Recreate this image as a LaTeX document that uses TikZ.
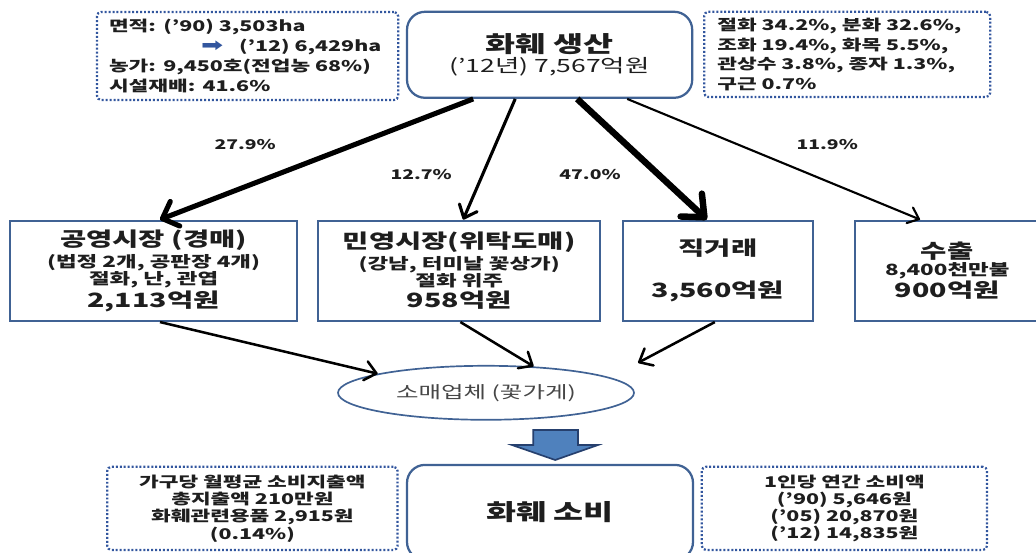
\documentclass[tikz,border=0pt]{standalone}
\usepackage{fontspec}
\setmainfont[FakeStretch=1.45]{Noto Sans CJK KR}
\newfontfamily\symfont[FakeStretch=1.45]{DejaVu Sans}
\usetikzlibrary{arrows.meta,shapes.geometric}

\definecolor{edgeblue}{RGB}{64,98,148}
\definecolor{dotblue}{RGB}{50,86,158}
\definecolor{blockblue}{RGB}{79,129,189}
\definecolor{blockedge}{RGB}{38,64,110}
\definecolor{ink}{RGB}{30,30,30}
\definecolor{soft}{RGB}{70,70,70}

\newcommand\headsz{\fontsize{14}{16}\selectfont}

\tikzset{
  note/.style={draw=dotblue, line width=1.6pt, dash pattern=on 1.4pt off 1.4pt,
    rounded corners=3pt, inner xsep=0.38cm, inner ysep=0pt, text=ink,
    font=\fontsize{10.5}{14}\selectfont\bfseries},
  stage/.style={draw=edgeblue, line width=1.6pt, rounded corners=0.45cm,
    inner sep=0pt, align=center, text=ink, font=\bfseries},
  market/.style={draw=edgeblue, line width=1.8pt, inner sep=0pt, align=center,
    text=ink, font=\fontsize{11}{12}\selectfont\bfseries, minimum height=2.5cm},
  share/.style={text=ink, font=\fontsize{9.5}{11}\selectfont\bfseries},
  flow/.style n args={3}{draw=black, line width=#1,
    -{Straight Barb[round,length=#2,width=#3]}},
}

\begin{document}
\begin{tikzpicture}
\useasboundingbox (0,0) rectangle (25.9,13.8);
\clip (0,0) rectangle (25.9,13.8);

% --- PRODUCTION ---
\node[stage, minimum width=7.13cm, minimum height=2.15cm] (prod) at (13.74,12.43)
  {{\fontsize{16}{18}\selectfont 화훼 생산}\\[1pt]
   {\mdseries\fontsize{13}{15}\selectfont (’12년) 7,567억원}};
\node[note, text width=6.93cm, inner xsep=0.3cm, align=left, minimum height=2.2cm] (area) at (6.19,12.40)
  {면적: (’90) 3,503ha\\
   \mbox{\hspace*{2.3cm}\makebox[0.95cm][l]{\color{dotblue}\symfont\fontsize{13}{13}\selectfont ➡}(’12) 6,429ha}\\
   농가: 9,450호(전업농 68\%)\\
   시설재배: 41.6\%};
\node[note, text width=6.49cm, inner xsep=0.33cm, align=left, minimum height=2.13cm] (kinds) at (21.18,12.44)
  {절화 34.2\%, 분화 32.6\%,\\
   조화 19.4\%, 화목 5.5\%,\\
   관상수 3.8\%, 종자 1.3\%,\\
   구근 0.7\%};

% --- MARKETS ---
\node[market, minimum width=7.18cm] (pub) at (3.84,7.03)
  {{\headsz 공영시장 (경매)}\\[2pt] (법정 2개, 공판장 4개)\\ 절화, 난, 관엽\\[1pt] {\headsz 2,113억원}};
\node[market, minimum width=7.05cm] (priv) at (11.48,7.03)
  {{\headsz 민영시장(위탁도매)}\\[2pt] (강남, 터미날 꽃상가)\\ 절화 위주\\[1pt] {\headsz 958억원}};
\node[market, minimum width=4.75cm] (direct) at (17.95,7.03)
  {{\headsz 직거래}\\[0.55cm] {\headsz 3,560억원}};
\node[market, minimum width=4.6cm] (export) at (23.68,7.03)
  {{\headsz 수출}\\ 8,400천만불\\ {\headsz 900억원}};

% --- SHARES ---
\node[share] (s1) at (6.13,10.18) {27.9\%};
\node[share] (s2) at (10.53,9.43) {12.7\%};
\node[share] (s3) at (14.75,9.43) {47.0\%};
\node[share] (s4) at (20.68,10.18) {11.9\%};

% --- RETAIL AND CONSUMPTION ---
\node[draw=edgeblue, line width=1.2pt, ellipse, minimum width=7.4cm, minimum height=1.35cm,
  inner sep=0pt, text=soft, font=\fontsize{12}{14}\selectfont] (retail) at (12.15,3.98) {소매업체 (꽃가게)};
\node[stage, minimum width=7.15cm, minimum height=2.375cm] (cons) at (13.75,0.99)
  {\fontsize{16}{18}\selectfont 화훼 소비};
\node[note, text width=6.5cm, align=center, minimum height=2.08cm,
  font=\fontsize{10.5}{12.3}\selectfont\bfseries] (house) at (6.31,1.09)
  {가구당 월평균 소비지출액\\ 총지출액 210만원\\ 화훼관련용품 2,915원\\ (0.14\%)};
\node[note, text width=6.37cm, align=center, minimum height=2.08cm,
  font=\fontsize{10.5}{12.3}\selectfont\bfseries] (percap) at (21.11,1.09)
  {1인당 연간 소비액\\ (’90) 5,646원\\ (’05) 20,870원\\ (’12) 14,835원};

% --- FLOWS ---
\draw[flow={3.6pt}{0.34cm}{0.66cm}] ([xshift=-1.91cm]prod.south) -- ([xshift=0.16cm]pub.north);
\draw[flow={2.2pt}{0.28cm}{0.48cm}] ([xshift=-0.86cm]prod.south) -- ([xshift=0.1cm]priv.north);
\draw[flow={4.6pt}{0.45cm}{0.78cm}] ([xshift=0.69cm]prod.south) -- ([xshift=-0.28cm]direct.north);
\draw[flow={1.5pt}{0.25cm}{0.42cm}] ([xshift=1.94cm]prod.south) -- ([xshift=-0.68cm]export.north);

\draw[flow={1.8pt}{0.28cm}{0.48cm}] ([xshift=0.16cm]pub.south) -- (retail.170);
\draw[flow={1.8pt}{0.28cm}{0.48cm}] ([xshift=0.03cm]priv.south) -- (retail.29);
\draw[flow={1.8pt}{0.28cm}{0.48cm}] ([xshift=-0.08cm]direct.south) -- ([shift={(0.08cm,0.75cm)}]retail.east);

% block arrow down to consumption
\filldraw[fill=blockblue, draw=blockedge, line width=1.2pt]
  (13.33,3.05) -- (14.45,3.05) -- (14.45,2.675) -- (14.95,2.675) -- (13.88,2.3)
  -- (12.8,2.675) -- (13.33,2.675) -- cycle;

\end{tikzpicture}
\end{document}
